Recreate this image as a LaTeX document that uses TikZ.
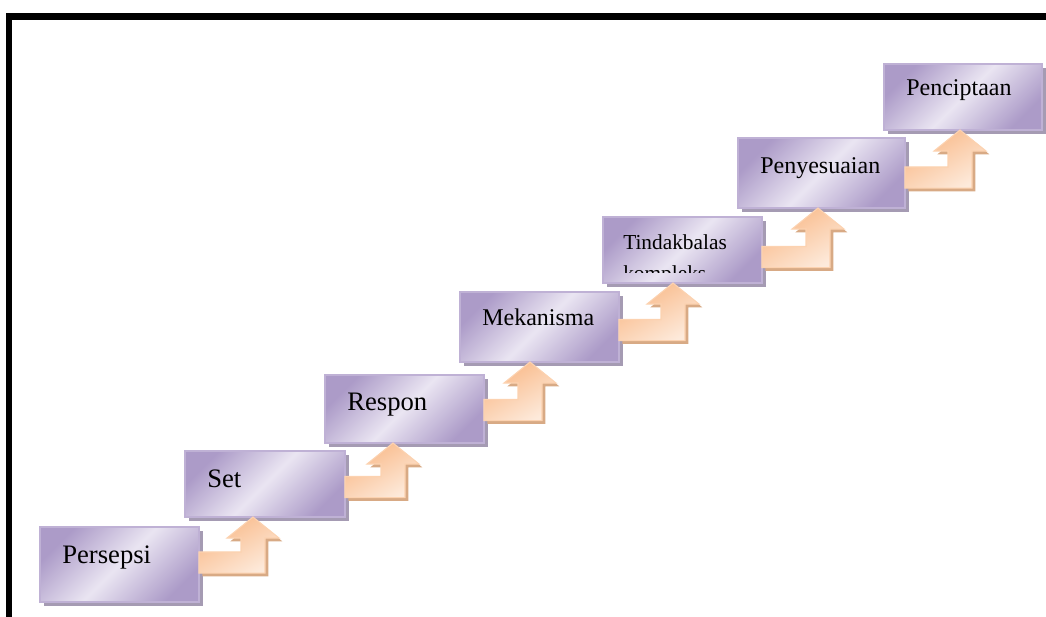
\documentclass[tikz,border=0pt]{standalone}
\usepackage{fontspec}
\setmainfont{Liberation Serif}
\usetikzlibrary{calc,shadows}

\definecolor{boxdark}{HTML}{AC9BC8}
\definecolor{boxlight}{HTML}{EAE5F2}
\definecolor{boxline}{HTML}{BFB1D5}
\definecolor{boxshade}{HTML}{A59BB3}
\definecolor{arrowdark}{HTML}{F9B886}
\definecolor{arrowlight}{HTML}{FDEADB}
\definecolor{arrowline}{HTML}{FCD2B0}
\definecolor{arrowshade}{HTML}{D8AA85}

\tikzset{
  stepbox/.style={rectangle, anchor=north west, inner sep=0pt, outer sep=0pt,
    draw=boxline, line width=1pt,
    top color=boxdark, bottom color=boxdark, middle color=boxlight, shading angle=45,
    drop shadow={shadow xshift=3pt, shadow yshift=-3pt, fill=boxshade, opacity=1}},
  steptext/.style={anchor=base west, inner sep=0pt},
  steparrow/.style={draw=arrowline, line width=0.8pt,
    left color=arrowdark, right color=arrowlight, shading angle=30,
    drop shadow={shadow xshift=2.5pt, shadow yshift=-2.5pt, fill=arrowshade, opacity=1}}
}

\begin{document}
\begin{tikzpicture}[x=0.75pt,y=-0.75pt]
  \clip (0,0) rectangle (1046,617);
  % frame
  \draw[line width=5pt] (1070,16.5) -- (9,16.5) -- (9,640);

  % the seven steps
  \foreach \name/\x/\y/\w/\h in {persepsi/40/527/159/75, set/185/451/160/66,
      respon/325/375/159/68, mekanisma/460/292/159/70, tindakbalas/603/217/159/66,
      penyesuaian/738/138/167/70, penciptaan/884/64/158/66}
    \node[stepbox, minimum width=\w*0.75pt, minimum height=\h*0.75pt] (\name) at (\x,\y) {};

  \foreach \name/\fs/\bl/\txt in {persepsi/20/36/Persepsi, set/20/36/Set,
      respon/20/35/Respon, mekanisma/18/33/Mekanisma,
      penyesuaian/18/35/Penyesuaian, penciptaan/18/31/Penciptaan}
    \node[steptext, font=\fontsize{\fs}{\fs}\selectfont] (t\name)
      at ($(\name.north west)+(22,\bl)$) {\txt};

  % text cut off by the box
  \begin{scope}
    \clip (tindakbalas.north west) rectangle ($(tindakbalas.south east)+(0,-11)$);
    \node[steptext, font=\fontsize{16}{16}\selectfont] (ttindakbalas)
      at ($(tindakbalas.north west)+(20,32)$) {Tindakbalas};
    \node[steptext, font=\fontsize{16}{16}\selectfont] (tkompleks)
      at ($(tindakbalas.north west)+(20,63)$) {kompleks};
  \end{scope}

  % bent arrows
  \foreach \a/\b/\off/\dy in {persepsi/set/68/35.5, set/respon/68/36,
      respon/mekanisma/70/35, mekanisma/tindakbalas/70/38,
      tindakbalas/penyesuaian/80/40, penyesuaian/penciptaan/76/39.5}
    \path[steparrow] let \p1=(\a.north east), \p2=(\b.south west),
        \p3=({\x2+\off*0.75pt},{\y1-\dy*0.75pt}) in
      (\x1,{\y3+7.9pt}) -- ({\x3-9pt},{\y3+7.9pt}) -- ({\x3-9pt},{\y2-15.75pt})
      -- ({\x3-19.5pt},{\y2-15.75pt}) -- (\x3,\y2) -- ({\x3+19.5pt},{\y2-15.75pt})
      -- ({\x3+9pt},{\y2-15.75pt}) -- ({\x3+9pt},{\y3-7.9pt}) -- (\x1,{\y3-7.9pt}) -- cycle;
\end{tikzpicture}
\end{document}
